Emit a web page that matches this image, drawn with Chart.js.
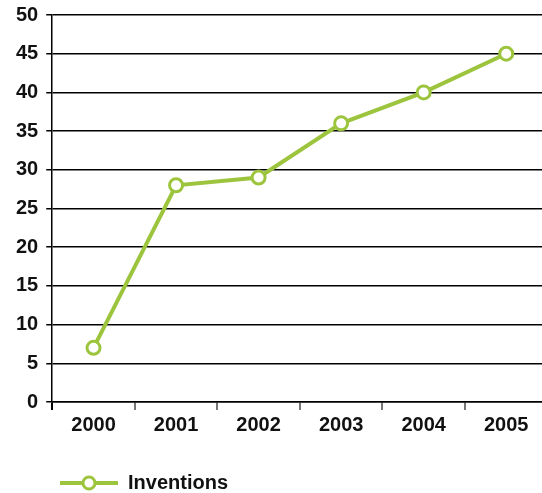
<!DOCTYPE html>
<html>
<head>
<meta charset="utf-8">
<script src="https://cdn.jsdelivr.net/npm/chart.js@4/dist/chart.umd.min.js"></script>
<style>
  html, body { margin: 0; padding: 0; background: #fff; overflow: hidden; }
  #wrap { width: 557px; height: 500px; margin-top: -5px; }
</style>
</head>
<body>
<div id="wrap"><canvas id="chart" width="557" height="500"></canvas></div>
<script>
const years = ['2000', '2001', '2002', '2003', '2004', '2005'];
const inventions = [7, 28, 29, 36, 40, 45];
const seriesName = 'Inventions';

const green = '#9cc43d';
const labelFont = { family: '"Liberation Sans", Arial, sans-serif', size: 20, weight: 'bold' };

// small picture used as the legend marker: line with a hollow circle
function legendMarker() {
    const c = document.createElement('canvas');
    c.width = 58; c.height = 18;
    const ctx = c.getContext('2d');
    ctx.strokeStyle = green;
    ctx.lineWidth = 4;
    ctx.beginPath();
    ctx.moveTo(0, 9); ctx.lineTo(58, 9);
    ctx.stroke();
    ctx.fillStyle = '#fff';
    ctx.lineWidth = 3;
    ctx.beginPath();
    ctx.arc(29, 9, 6, 0, Math.PI * 2);
    ctx.fill();
    ctx.stroke();
    return c;
}

// nudge the legend to where the original has it
const legendShift = {
    id: 'legendShift',
    afterLayout(chart) {
        const lg = chart.legend;
        const dx = 42, dy = 23;
        lg.left += dx; lg.right += dx;
        lg.top += dy; lg.bottom += dy;
    }
};

const canvas = document.getElementById('chart');
new Chart(canvas, {
    type: 'line',
    data: {
        labels: years,
        datasets: [{
            label: seriesName,
            data: inventions,
            borderColor: green,
            borderWidth: 4,
            pointRadius: 6.5,
            pointBorderWidth: 3,
            pointBackgroundColor: '#fff',
            pointBorderColor: green,
            pointStyle: 'circle',
            tension: 0
        }]
    },
    options: {
        responsive: false,
        animation: false,
        layout: { padding: { left: 8, right: 0, top: 0, bottom: 15 } },
        scales: {
            x: {
                offset: true,
                grid: {
                    offset: true,
                    drawOnChartArea: false,
                    drawTicks: true,
                    tickLength: 8,
                    color: ctx => ctx.index === 0 ? '#000' : '#777',
                    lineWidth: 2
                },
                border: { color: '#000', width: 1.5 },
                ticks: { color: '#111', font: labelFont, padding: 3 }
            },
            y: {
                min: 0,
                max: 50,
                ticks: { stepSize: 5, color: '#111', font: labelFont, padding: 8 },
                grid: { color: '#000', lineWidth: 1.5, tickLength: 6 },
                border: { color: '#000', width: 1.5 }
            }
        },
        plugins: {
            legend: {
                position: 'bottom',
                align: 'start',
                labels: {
                    usePointStyle: true,
                    pointStyleWidth: 58,
                    color: '#111',
                    font: labelFont,
                    padding: 10,
                    generateLabels: chart => [{
                        text: seriesName,
                        pointStyle: legendMarker(),
                        fontColor: '#111',
                        datasetIndex: 0,
                        lineWidth: 0,
                        strokeStyle: 'transparent',
                        fillStyle: 'transparent'
                    }]
                }
            },
            tooltip: { enabled: false }
        }
    },
    plugins: [legendShift]
});
</script>
</body>
</html>
